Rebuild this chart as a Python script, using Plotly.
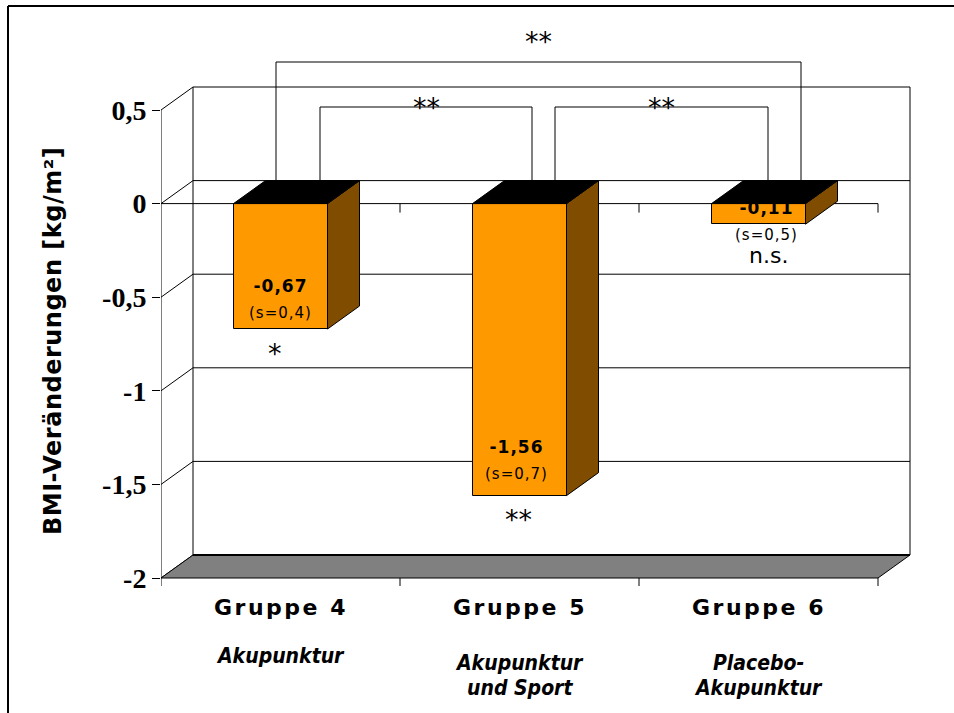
import plotly.graph_objects as go

# ---- data ---------------------------------------------------------------
groups = ["Gruppe 4", "Gruppe 5", "Gruppe 6"]
treatments = [["Akupunktur"], ["Akupunktur", "und Sport"], ["Placebo-", "Akupunktur"]]
bmi_change = [-0.67, -1.56, -0.11]          # mean BMI change [kg/m²]
bmi_sd = [0.4, 0.7, 0.5]                    # standard deviation
within_sig = ["*", "**", "n.s."]            # significance of change within group
pair_sig = [(0, 2, "**"), (0, 1, "**"), (1, 2, "**")]   # between-group tests
y_ticks = [-2, -1.5, -1, -0.5, 0, 0.5]
y_ticktext = ["-2", "-1,5", "-1", "-0,5", "0", "0,5"]

# ---- geometry of the pseudo-3D box --------------------------------------
W, H = 954, 713
ML, MR, MT, MB = 161, 24, 20, 93
PLOT_W, PLOT_H = W - ML - MR, H - MT - MB
PX_CAT = 239.0          # pixels per category slot on the front plane
PX_UNIT = 187.2         # pixels per kg/m² on the front plane
ROW_TOP = 110           # pixel row of the highest tick on the front plane
Y_MAX = y_ticks[-1]
Y_MIN = y_ticks[0]

X0 = -0.5
X1 = len(groups) - 0.5
x_range = [X0, X0 + PLOT_W / PX_CAT]
y_range = [Y_MAX - (H - MB - ROW_TOP) / PX_UNIT, Y_MAX + (ROW_TOP - MT) / PX_UNIT]

DX = 32 / PX_CAT        # depth offset (x) of the back plane
DY = 23 / PX_UNIT       # depth offset (y) of the back plane
HW = 47 / PX_CAT        # half width of a column


def xd(px):
    return X0 + (px - ML) / PX_CAT


def yd(py):
    return Y_MAX - (py - ROW_TOP) / PX_UNIT


def xp(px):
    return (px - ML) / PLOT_W


def yp(py):
    return (H - MB - py) / PLOT_H


def dpx(px):
    return px / PX_UNIT


ORANGE = "#FF9900"
BROWN = "#7F4C00"
GREY = "#808080"

shapes = []


def line(x0, y0, x1, y1, width=1, color="black", layer="below", ref="data"):
    d = dict(type="line", x0=x0, y0=y0, x1=x1, y1=y1,
             line=dict(color=color, width=width), layer=layer)
    if ref == "paper":
        d.update(xref="paper", yref="paper")
    else:
        d.update(xref="x", yref="y")
    shapes.append(d)


def poly(pts, fill, width=1, layer="below"):
    path = "M " + " L ".join(f"{x},{y}" for x, y in pts) + " Z"
    shapes.append(dict(type="path", path=path, xref="x", yref="y",
                       fillcolor=fill, line=dict(color="black", width=width),
                       layer=layer))


# back wall
poly([(X0 + DX, Y_MIN + DY), (X1 + DX, Y_MIN + DY), (X1 + DX, Y_MAX + DY),
      (X0 + DX, Y_MAX + DY)], "white")
# grid lines on the back wall and the left wall
for v in y_ticks:
    if Y_MIN < v < Y_MAX:
        line(X0 + DX, v + DY, X1 + DX, v + DY)
    line(X0, v, X0 + DX, v + DY)
# floor
poly([(X0, Y_MIN), (X1, Y_MIN), (X1 + DX, Y_MIN + DY), (X0 + DX, Y_MIN + DY)], GREY)
line(X0 + DX, Y_MIN + DY, X1 + DX, Y_MIN + DY, width=2)
# front value axis
line(X0, Y_MIN, X0, Y_MAX)
# category axis at zero and along the floor, with tick marks between groups
line(X0, 0, X1, 0)
for k in range(len(groups) + 1):
    xb = X0 + k
    if k > 0:
        line(xb, 0, xb, -dpx(9))
    line(xb, Y_MIN, xb, Y_MIN - dpx(8))

# brackets between groups (pixel columns of the bracket legs, row of bar)
bracket_style = [
    dict(x0=276, x1=801, row=62, label_row=41),
    dict(x0=320, x1=532, row=107, label_row=107),
    dict(x0=555, x1=768, row=107, label_row=107),
]
annotations = []
for (a, b, lab), st in zip(pair_sig, bracket_style):
    xa, xb_, yr = xd(st["x0"]), xd(st["x1"]), yd(st["row"])
    line(xa, DY, xa, yr)
    line(xa, yr, xb_, yr)
    line(xb_, yr, xb_, DY)
    annotations.append(dict(x=(xa + xb_) / 2, y=yd(st["label_row"]), xref="x", yref="y",
                            text=lab, showarrow=False, xanchor="center", yanchor="middle",
                            font=dict(family="DejaVu Sans", size=27, color="black")))

# outer frame
line(xp(8), yp(6), xp(W + 5), yp(6), width=2, layer="above", ref="paper")
line(xp(8), yp(6), xp(8), yp(H + 5), width=2, layer="above", ref="paper")

fig = go.Figure()

# front faces of the columns
xs = list(range(len(groups)))
fig.add_trace(go.Bar(x=xs, y=bmi_change, width=2 * HW, base=0,
                     marker=dict(color=ORANGE, line=dict(color="black", width=1)),
                     hoverinfo="skip", showlegend=False))

# right-hand side faces
for i, v in zip(xs, bmi_change):
    fig.add_trace(go.Scatter(
        x=[i + HW, i + HW + DX, i + HW + DX, i + HW, i + HW],
        y=[0, DY, v + DY, v, 0], mode="lines", fill="toself",
        fillcolor=BROWN, line=dict(color="black", width=1),
        hoverinfo="skip", showlegend=False))

# value labels (pixel offsets from the column end)
label_style = [
    dict(dx=0, value_dy=-41, sd_dy=-15, sig_dx=-6, sig_dy=24),
    dict(dx=-3, value_dy=-47, sd_dy=-20, sig_dx=-1, sig_dy=24),
    dict(dx=8, value_dy=-14, sd_dy=12, sig_dx=10, sig_dy=31),
]
for i, (v, s, sig, st) in enumerate(zip(bmi_change, bmi_sd, within_sig, label_style)):
    xc = i + st["dx"] / PX_CAT
    value_txt = f"{v:.2f}".replace(".", ",")
    sd_txt = f"(s={s:.1f})".replace(".", ",")
    fig.add_trace(go.Scatter(
        x=[xc], y=[v - dpx(st["value_dy"])], mode="text",
        text=[f"<span style='letter-spacing:1px'><b>{value_txt}</b></span>"],
        textfont=dict(family="DejaVu Sans", size=17, color="black"),
        hoverinfo="skip", showlegend=False))
    fig.add_trace(go.Scatter(
        x=[xc], y=[v - dpx(st["sd_dy"])], mode="text",
        text=[f"<span style='letter-spacing:1px'>{sd_txt}</span>"],
        textfont=dict(family="DejaVu Sans", size=15, color="black"),
        hoverinfo="skip", showlegend=False))
    annotations.append(dict(
        x=i + st["sig_dx"] / PX_CAT, y=v - dpx(st["sig_dy"]), xref="x", yref="y",
        text=sig, showarrow=False, xanchor="center", yanchor="middle",
        font=dict(family="DejaVu Sans", size=27 if sig != "n.s." else 22, color="black")))

# top faces (drawn last so they cover what lies behind them)
for i, v in zip(xs, bmi_change):
    fig.add_trace(go.Scatter(
        x=[i - HW, i + HW, i + HW + DX, i - HW + DX, i - HW],
        y=[0, 0, DY, DY, 0], mode="lines", fill="toself",
        fillcolor="black", line=dict(color="black", width=1),
        hoverinfo="skip", showlegend=False))

# category labels: group name, then treatment lines
for i, (g, lines) in enumerate(zip(groups, treatments)):
    annotations.append(dict(
        x=i, y=yp(607), xref="x", yref="paper", showarrow=False,
        xanchor="center", yanchor="middle",
        text=f"<span style='letter-spacing:2.5px'><b>{g}</b></span>",
        font=dict(family="DejaVu Sans", size=22, color="black")))
    first_row = 656 if len(lines) == 1 else 663
    for k, txt in enumerate(lines):
        annotations.append(dict(
            x=i, y=yp(first_row + 25 * k), xref="x", yref="paper", showarrow=False,
            xanchor="center", yanchor="middle",
            text=f"<b><i>{txt}</i></b>",
            font=dict(family="DejaVu Sans Condensed, DejaVu Sans", size=21,
                      color="black")))

# value axis title
annotations.append(dict(
    x=xp(53), y=yp(341), xref="paper", yref="paper", showarrow=False,
    xanchor="center", yanchor="middle", textangle=-90,
    text="<span style='letter-spacing:0.5px'><b>BMI-Veränderungen [kg/m²]</b></span>",
    font=dict(family="DejaVu Sans", size=24, color="black")))

fig.update_layout(
    width=W, height=H,
    margin=dict(l=ML, r=MR, t=MT, b=MB, pad=0),
    paper_bgcolor="white", plot_bgcolor="white",
    showlegend=False,
    bargap=0,
    xaxis=dict(range=x_range, showgrid=False, zeroline=False, showline=False,
               showticklabels=False, ticks="", fixedrange=True),
    yaxis=dict(range=y_range, tickvals=y_ticks, ticktext=y_ticktext,
               showgrid=False, zeroline=False, showline=False,
               ticks="outside", ticklen=8, tickwidth=1, tickcolor="black",
               tickfont=dict(family="Liberation Serif", size=28, color="black",
                             weight="bold"),
               fixedrange=True),
    shapes=shapes,
    annotations=annotations,
)

fig.write_html("out.html")
